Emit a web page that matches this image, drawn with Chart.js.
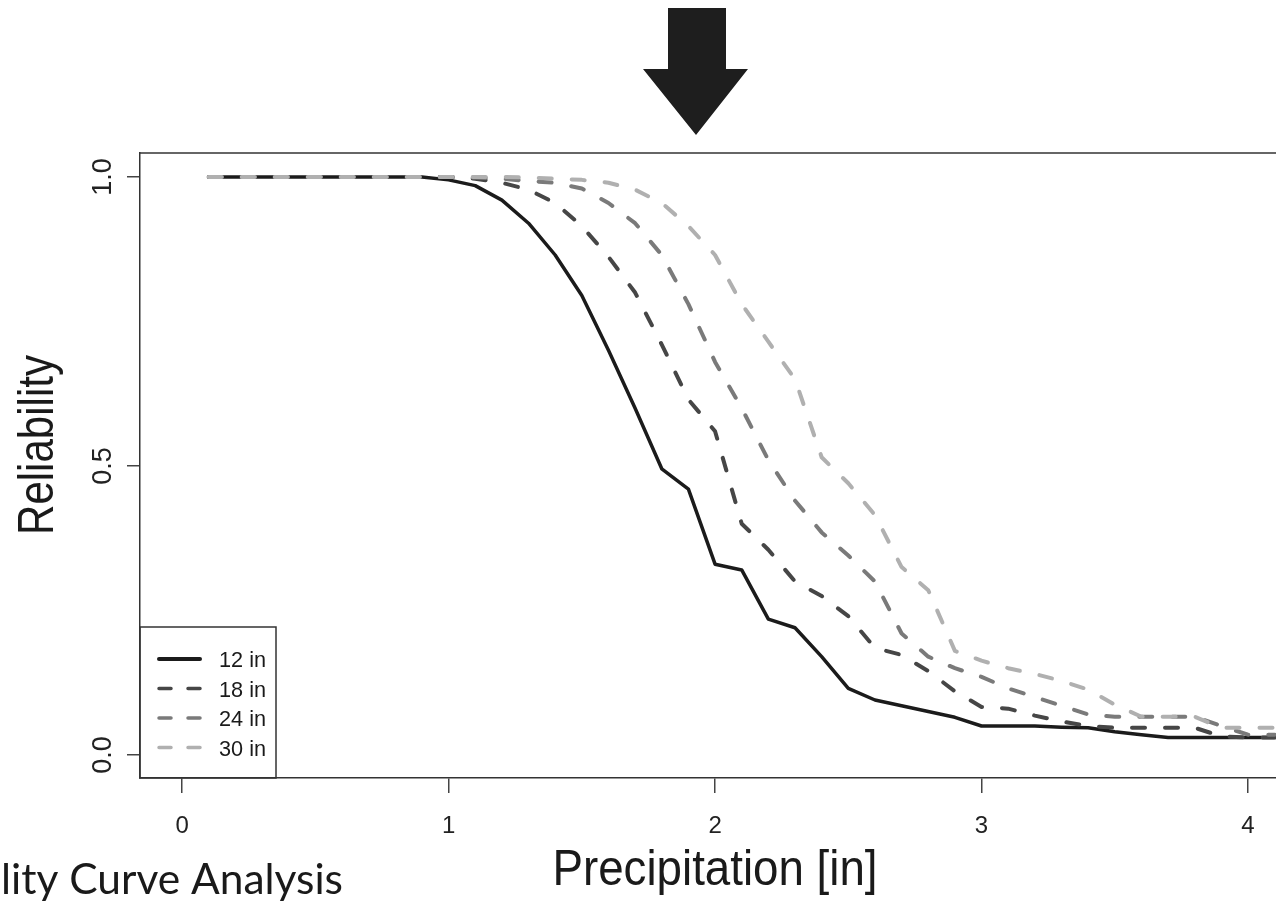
<!DOCTYPE html>
<html>
<head>
<meta charset="utf-8">
<script src="https://cdn.jsdelivr.net/npm/chart.js@4.4.1/dist/chart.umd.min.js"></script>
<style>
  html, body { margin: 0; padding: 0; background: #fff; overflow: hidden; }
  #wrap { position: relative; width: 1276px; height: 918px; }
</style>
</head>
<body>
<div id="wrap"><canvas id="myChart" width="1276" height="918"></canvas></div>
<script>
// precipitation depth [in] (x)
const precip = [0.1, 0.2, 0.3, 0.4, 0.5, 0.6, 0.7, 0.8, 0.9, 1.0,
  1.1, 1.2, 1.3, 1.4, 1.5, 1.6, 1.7, 1.8, 1.9, 2.0,
  2.1, 2.2, 2.3, 2.4, 2.5, 2.6, 2.7, 2.8, 2.9, 3.0,
  3.1, 3.2, 3.3, 3.4, 3.5, 3.6, 3.7, 3.8, 3.9, 4.0, 4.1];

// reliability per curve
const rel12 = [1, 1, 1, 1, 1, 1, 1, 1, 1, 0.995,
  0.985, 0.96, 0.92, 0.865, 0.795, 0.70, 0.60, 0.495, 0.46, 0.33,
  0.32, 0.235, 0.22, 0.17, 0.115, 0.095, 0.085, 0.075, 0.065, 0.05,
  0.05, 0.05, 0.048, 0.047, 0.04, 0.035, 0.03, 0.03, 0.03, 0.03, 0.03];
const rel18 = [1, 1, 1, 1, 1, 1, 1, 1, 1, 1,
  0.997, 0.99, 0.978, 0.955, 0.915, 0.862, 0.80, 0.71, 0.615, 0.56,
  0.40, 0.355, 0.30, 0.275, 0.24, 0.185, 0.173, 0.145, 0.11, 0.083,
  0.08, 0.068, 0.058, 0.05, 0.047, 0.047, 0.047, 0.047, 0.032, 0.03, 0.03];
const rel24 = [1, 1, 1, 1, 1, 1, 1, 1, 1, 1,
  0.999, 0.997, 0.993, 0.99, 0.98, 0.955, 0.92, 0.865, 0.78, 0.68,
  0.60, 0.51, 0.44, 0.385, 0.345, 0.30, 0.21, 0.17, 0.15, 0.135,
  0.115, 0.10, 0.085, 0.07, 0.066, 0.066, 0.066, 0.066, 0.05, 0.035, 0.035];
const rel30 = [1, 1, 1, 1, 1, 1, 1, 1, 1, 1,
  1, 1, 0.999, 0.997, 0.995, 0.99, 0.978, 0.955, 0.915, 0.865,
  0.78, 0.715, 0.65, 0.515, 0.47, 0.415, 0.325, 0.285, 0.18, 0.163,
  0.15, 0.14, 0.128, 0.113, 0.087, 0.066, 0.066, 0.066, 0.047, 0.047, 0.047];

const seriesNames = ['12 in', '18 in', '24 in', '30 in'];
const xTicks = [0, 1, 2, 3, 4];
const xTickLabels = ['0', '1', '2', '3', '4'];
const yTicks = [0, 0.5, 1];
const yTickLabels = ['0.0', '0.5', '1.0'];

const lineColors = ['#1b1b1b', '#464646', '#7a7a7a', '#b0b0b0'];
const lineDash = [[], [13, 20], [13, 20], [13, 20]];

function toPoints(vals) {
  return vals.map((v, i) => ({ x: precip[i], y: v }));
}

// texte ajusté à une largeur donnée (polices condensées de l'original)
function fitText(c, text, x, y, width, rot) {
  c.save();
  c.translate(x, y);
  if (rot) c.rotate(rot);
  const w = c.measureText(text).width;
  c.scale(width / w, 1);
  c.fillText(text, 0, 0);
  c.restore();
}

const decor = {
  id: 'decor',
  afterDraw(chart) {
    const c = chart.ctx;
    const area = chart.chartArea;
    const xs = chart.scales.x;
    const ys = chart.scales.y;
    c.save();

    // top edge of the box
    c.strokeStyle = '#333';
    c.lineWidth = 1.5;
    c.beginPath();
    c.moveTo(area.left, area.top);
    c.lineTo(area.right + 2, area.top);
    c.stroke();

    // tick labels
    c.fillStyle = '#222';
    c.textAlign = 'center';
    c.textBaseline = 'alphabetic';
    c.font = '24px "Liberation Sans", Arial, sans-serif';
    xTicks.forEach((v, i) => c.fillText(xTickLabels[i], xs.getPixelForValue(v), 833));
    c.font = '27px "Liberation Sans", Arial, sans-serif';
    yTicks.forEach((v, i) => {
      c.save();
      c.translate(111, ys.getPixelForValue(v));
      c.rotate(-Math.PI / 2);
      c.fillText(yTickLabels[i], 0, 0);
      c.restore();
    });

    // axis titles
    c.fillStyle = '#1a1a1a';
    c.font = '50px "Liberation Sans", Arial, sans-serif';
    fitText(c, 'Reliability', 53, 445, 180, -Math.PI / 2);
    fitText(c, 'Precipitation [in]', 715, 885, 325, 0);

    // cut-off slide title
    c.textAlign = 'left';
    c.font = '42px Lato, "Open Sans", sans-serif';
    fitText(c, 'lity Curve Analysis', 1, 894, 342, 0);

    // legend box in the lower left corner
    c.strokeStyle = '#333';
    c.lineWidth = 1.5;
    c.strokeRect(area.left, 627, 136, area.bottom - 627);
    c.font = '22px "Liberation Sans", Arial, sans-serif';
    seriesNames.forEach((name, i) => {
      const ly = 659 + i * 29.5;
      c.save();
      c.strokeStyle = lineColors[i];
      c.lineWidth = i === 0 ? 4 : 3.5;
      c.lineCap = 'round';
      c.setLineDash(i === 0 ? [] : [12, 17]);
      c.beginPath();
      c.moveTo(159, ly);
      c.lineTo(200, ly);
      c.stroke();
      c.restore();
      c.fillStyle = '#1a1a1a';
      fitText(c, name, 219, ly + 8, 47, 0);
    });

    // big arrow on top
    c.fillStyle = '#1e1e1e';
    c.beginPath();
    c.moveTo(668, 8);
    c.lineTo(726, 8);
    c.lineTo(726, 69);
    c.lineTo(748, 69);
    c.lineTo(696, 135);
    c.lineTo(643, 69);
    c.lineTo(668, 69);
    c.closePath();
    c.fill();

    c.restore();
  }
};

const ctx = document.getElementById('myChart').getContext('2d');
const allRel = [rel12, rel18, rel24, rel30];

const myChart = new Chart(ctx, {
  type: 'line',
  data: {
    datasets: allRel.map((vals, i) => ({
      label: seriesNames[i],
      data: toPoints(vals),
      borderColor: lineColors[i],
      borderWidth: i === 0 ? 3.5 : 4,
      borderDash: lineDash[i],
      borderCapStyle: i === 0 ? 'butt' : 'round',
      borderJoinStyle: 'round',
      pointRadius: 0,
      tension: 0,
      fill: false,
      order: 3 - i
    }))
  },
  options: {
    responsive: false,
    animation: false,
    layout: { padding: { left: 140, top: 153, right: 0, bottom: 140 } },
    plugins: {
      legend: { display: false },
      tooltip: { enabled: false }
    },
    scales: {
      x: {
        type: 'linear',
        min: -0.158,
        max: 4.105,
        afterBuildTicks: s => { s.ticks = xTicks.map(v => ({ value: v })); },
        afterFit: s => { s.height = 0; },
        ticks: { display: false },
        grid: { drawOnChartArea: false, drawTicks: true, tickLength: 15, color: '#444', lineWidth: 1.5 },
        border: { display: true, color: '#333', width: 1.5 }
      },
      y: {
        type: 'linear',
        min: -0.04,
        max: 1.0415,
        afterBuildTicks: s => { s.ticks = yTicks.map(v => ({ value: v })); },
        afterFit: s => { s.width = 0; },
        ticks: { display: false },
        grid: { drawOnChartArea: false, drawTicks: true, tickLength: 13, color: '#444', lineWidth: 1.5 },
        border: { display: true, color: '#333', width: 1.5 }
      }
    }
  },
  plugins: [decor]
});
</script>
</body>
</html>
